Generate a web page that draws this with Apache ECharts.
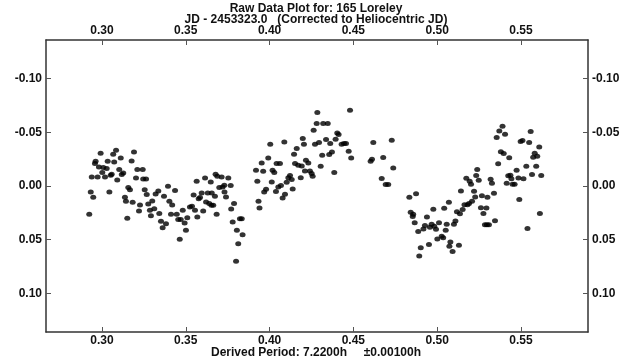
<!DOCTYPE html>
<html>
<head>
<meta charset="utf-8">
<script src="https://cdn.jsdelivr.net/npm/echarts@6/dist/echarts.min.js"></script>
<style>html,body{margin:0;padding:0;background:#fff}#c{width:632px;height:362px}</style>
</head>
<body>
<div id="c"></div>
<script>
// Phase (JD - 2453323.0, heliocentric)
const jd = [
0.2924,0.2933,0.2948,0.2939,0.2974,0.2958,0.2962,0.2982,0.2992,0.3002,
0.3018,0.3008,0.3028,0.3034,0.3044,0.3052,0.3058,0.3067,0.3073,0.3084,
0.3091,0.3103,0.3112,0.3118,0.3127,0.3137,0.3143,0.3151,0.3157,0.3167,
0.3177,0.3183,0.3191,0.3203,0.3211,0.3221,0.3227,0.3243,0.3246,0.3263,
0.3255,0.3267,0.3276,0.3286,0.3292,0.3300,0.3312,0.3320,0.3336,0.3342,
0.3352,0.3362,0.3370,0.3382,0.3394,0.3402,0.3412,0.3419,0.3436,0.3446,
0.3455,0.3464,0.3470,0.3482,0.3493,0.3501,0.3509,0.3525,0.3537,0.3547,
0.3555,0.3565,0.3569,0.3577,0.3585,0.3595,0.3604,0.3615,0.3621,0.3631,
0.3640,0.3649,0.3655,0.3664,0.3653,0.3674,0.3678,0.3688,0.3684,0.3700,
0.3714,0.3720,0.3730,0.3731,0.3740,0.3754,0.3768,0.3771,0.3780,0.3788,
0.3800,0.3805,0.3813,0.3823,0.3834,0.3839,
0.3919,0.3927,0.3934,0.3940,0.3953,0.3962,0.3968,0.3979,0.3992,0.4004,
0.4013,0.4018,0.4028,0.4038,0.4042,0.4052,0.4062,0.4068,0.4078,0.4088,
0.4092,0.4102,0.4112,0.4122,0.4132,0.4138,0.4146,0.4152,0.4162,0.4171,
0.4186,0.4192,0.4198,0.4205,0.4211,0.4217,0.4231,0.4241,0.4251,0.4257,
0.4263,0.4271,0.4281,0.4285,0.4295,0.4305,0.4314,0.4320,0.4337,0.4347,
0.4356,0.4362,0.4372,0.4386,0.4394,0.4404,0.4412,0.4430,0.4444,0.4456,
0.4472,0.4480,0.4487,0.4603,0.4611,0.4619,0.4669,0.4678,0.4693,0.4708,
0.4729,0.4738,
0.4834,0.4842,0.4854,0.4857,0.4866,0.4874,0.4887,0.4893,0.4902,0.4918,
0.4927,0.4939,0.4951,0.4957,0.4967,0.4977,0.4983,0.4993,0.5001,0.5011,
0.5027,0.5036,0.5042,0.5051,0.5057,0.5070,0.5073,0.5079,0.5092,0.5100,
0.5109,0.5118,0.5130,0.5136,0.5142,0.5152,0.5163,0.5174,0.5181,0.5190,
0.5194,0.5202,0.5208,0.5220,0.5227,0.5233,0.5239,0.5248,0.5261,0.5267,
0.5276,0.5285,0.5297,0.5309,0.5294,0.5300,0.5319,0.5327,0.5339,0.5345,
0.5355,0.5364,0.5371,0.5380,0.5390,0.5397,0.5405,0.5415,0.5424,0.5430,
0.5437,0.5443,0.5450,0.5462,0.5474,0.5485,0.5490,0.5498,0.5509,0.5515,
0.5532,0.5539,0.5549,0.5558,0.5566,0.5573,0.5582,0.5591,0.5597,0.5609,
0.5613,0.5621
];
// Relative magnitude
const mag = [
0.0264,0.0056,0.0105,-0.0084,-0.0084,-0.0209,-0.0230,-0.0177,-0.0305,-0.0125,
-0.0084,-0.0172,-0.0162,-0.0230,0.0056,-0.0100,-0.0109,-0.0296,-0.0224,-0.0333,
-0.0056,-0.0153,-0.0261,-0.0106,-0.0121,0.0105,0.0143,0.0301,0.0015,0.0034,
-0.0233,0.0152,-0.0317,-0.0075,-0.0153,0.0233,0.0177,-0.0153,-0.0065,-0.0065,
0.0034,0.0080,0.0168,0.0227,0.0276,0.0140,0.0211,0.0075,0.0047,0.0257,
0.0329,0.0388,0.0096,0.0351,0.0003,0.0143,0.0264,0.0177,0.0043,0.0264,
0.0313,0.0497,0.0313,0.0227,0.0345,0.0413,0.0295,0.0196,0.0189,0.0084,
0.0227,-0.0044,0.0289,0.0118,0.0108,0.0065,0.0233,-0.0075,0.0149,0.0065,
0.0164,-0.0037,0.0065,0.0180,0.0180,0.0096,-0.0109,-0.0090,0.0264,0.0015,
-0.0084,0.0009,-0.0007,0.0056,0.0103,-0.0075,-0.0004,0.0215,0.0336,0.0164,
0.0702,0.0413,0.0537,0.0304,0.0304,0.0453,
-0.0146,-0.0044,0.0143,0.0205,-0.0215,-0.0137,0.0056,0.0031,-0.0261,-0.0389,
-0.0037,-0.0146,-0.0125,0.0052,-0.0209,0.0009,-0.0209,-0.0004,0.0112,-0.0410,
0.0077,-0.0035,-0.0078,-0.0097,-0.0060,0.0028,-0.0296,-0.0209,-0.0349,-0.0193,
-0.0078,-0.0187,-0.0442,-0.0389,-0.0140,-0.0240,-0.0215,-0.0140,-0.0116,-0.0090,
-0.0520,-0.0389,-0.0582,-0.0685,-0.0405,-0.0184,-0.0286,-0.0582,-0.0433,-0.0582,
-0.0293,-0.0396,-0.0317,-0.0125,-0.0436,-0.0494,-0.0479,-0.0389,-0.0396,-0.0396,
-0.0324,-0.0706,-0.0261,-0.0230,-0.0249,-0.0405,-0.0069,-0.0265,-0.0013,-0.0013,
-0.0426,-0.0168,
0.0105,0.0245,0.0283,0.0264,0.0343,0.0073,0.0423,0.0653,0.0575,0.0401,
0.0367,0.0289,0.0544,0.0385,0.0357,0.0217,0.0376,0.0404,0.0493,0.0343,
0.0467,0.0483,0.0208,0.0413,0.0357,0.0152,0.0562,0.0522,0.0609,0.0357,
0.0325,0.0241,0.0553,0.0259,0.0047,0.0220,0.0175,-0.0072,0.0175,0.0164,
-0.0044,-0.0016,0.0143,0.0049,0.0103,-0.0097,-0.0153,-0.0053,0.0203,0.0091,
0.0255,0.0360,0.0360,0.0360,0.0205,0.0105,-0.0062,-0.0025,0.0068,0.0323,
-0.0451,-0.0207,-0.0513,-0.0319,-0.0557,-0.0302,-0.0482,-0.0025,-0.0095,-0.0263,
-0.0100,-0.0067,-0.0016,-0.0016,-0.0146,-0.0075,0.0126,-0.0415,-0.0423,-0.0067,
-0.0184,0.0396,-0.0405,-0.0508,-0.0107,-0.0268,-0.0305,-0.0184,-0.0277,-0.0364,
0.0257,-0.0097
];
const xTicks = [0.30, 0.35, 0.40, 0.45, 0.50, 0.55];
const yTicks = [-0.10, -0.05, 0.00, 0.05, 0.10];
const titleLine1 = 'Raw Data Plot for: 165 Loreley';
const titleLine2 = 'JD - 2453323.0   (Corrected to Heliocentric JD)';
const footer = 'Derived Period: 7.2200h     \u00b10.00100h';

const points = jd.map((v, i) => [v, mag[i]]);
const font = 'Liberation Sans, Arial, sans-serif';
const lbl = {fontFamily: font, fontWeight: 'bold', fontSize: 12, color: '#111'};

function xAxisDef(pos) {
  return {
    type: 'value', position: pos, min: 0.2666, max: 0.590,
    axisLine: {show: true, onZero: false, lineStyle: {color: '#333', width: 1.5}},
    axisTick: {show: true, inside: true, length: 5, customValues: xTicks, lineStyle: {color: '#555', width: 1}},
    axisLabel: Object.assign({show: true, margin: 3, customValues: xTicks,
      formatter: v => v.toFixed(2)}, lbl),
    splitLine: {show: false}
  };
}
function yAxisDef(pos) {
  return {
    type: 'value', position: pos, min: -0.136, max: 0.136, inverse: true,
    axisLine: {show: true, onZero: false, lineStyle: {color: '#333', width: 1.5}},
    axisTick: {show: true, inside: true, length: 5, customValues: yTicks, lineStyle: {color: '#555', width: 1}},
    axisLabel: Object.assign({show: true, margin: 4, customValues: yTicks,
      formatter: v => v.toFixed(2)}, lbl),
    splitLine: {show: false}
  };
}

const chart = echarts.init(document.getElementById('c'), null, {renderer: 'canvas'});
chart.setOption({
  animation: false,
  backgroundColor: '#fff',
  title: [
    {text: titleLine1, left: 'center', top: 3, padding: 0, textStyle: lbl},
    {text: titleLine2, left: 'center', top: 14, padding: 0, textStyle: lbl},
    {text: footer, left: 'center', top: 347, padding: 0, textStyle: lbl}
  ],
  grid: {left: 46, right: 44, top: 40, bottom: 30, containLabel: false},
  xAxis: [xAxisDef('bottom'), xAxisDef('top')],
  yAxis: [yAxisDef('left'), yAxisDef('right')],
  series: [{
    type: 'scatter',
    xAxisIndex: 0, yAxisIndex: 0,
    data: points,
    symbol: 'circle',
    symbolSize: [6, 5],
    itemStyle: {color: '#000'}
  }]
});
</script>
</body>
</html>
